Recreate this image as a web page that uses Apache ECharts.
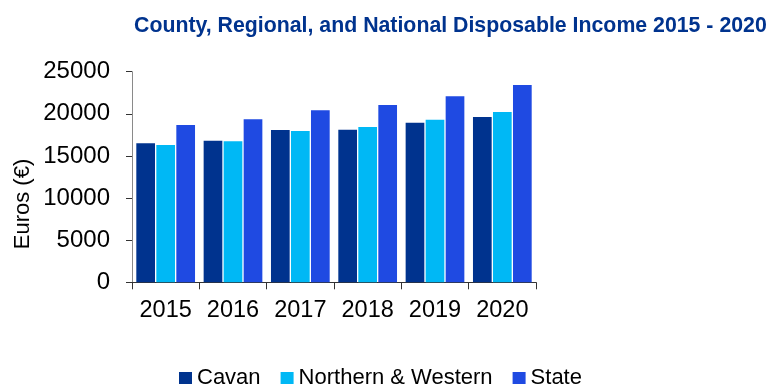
<!DOCTYPE html>
<html>
<head>
<meta charset="utf-8">
<script src="https://cdn.jsdelivr.net/npm/echarts@6/dist/echarts.min.js"></script>
<style>
  html, body { margin: 0; padding: 0; background: #ffffff; }
  #chart { width: 769px; height: 385px; }
</style>
</head>
<body>
<div id="chart"></div>
<script>
// Disposable income per person, euro, by year
const years = ['2015', '2016', '2017', '2018', '2019', '2020'];
const cavan = [16500, 16810, 18080, 18120, 18950, 19620];
const northernWestern = [16300, 16740, 17960, 18440, 19300, 20220];
const state = [18670, 19350, 20420, 21050, 22080, 23420];
const yTicks = [0, 5000, 10000, 15000, 20000, 25000];

const FONT = "'Liberation Sans', Arial, sans-serif";
const colors = { cavan: '#00338E', nw: '#00B8F5', state: '#1F4AE2' };

const chart = echarts.init(document.getElementById('chart'), null, { renderer: 'canvas' });

function barSeries(name, data, color) {
  return {
    name: name,
    type: 'bar',
    data: data,
    itemStyle: { color: color },
    barGap: '7%',
    barCategoryGap: '12.8%'
  };
}

chart.setOption({
  animation: false,
  backgroundColor: '#ffffff',
  title: {
    text: 'County, Regional, and National Disposable Income 2015 - 2020',
    left: 134,
    top: 16,
    padding: 0,
    textStyle: { fontFamily: FONT, fontSize: 21.3, fontWeight: 'bold', color: '#00338E' }
  },
  legend: {
    left: 179,
    top: 367,
    padding: 0,
    itemWidth: 13,
    itemHeight: 12,
    itemGap: 20,
    icon: 'rect',
    textStyle: { fontFamily: FONT, fontSize: 22, color: '#000000' },
    data: ['Cavan', 'Northern & Western', 'State']
  },
  graphic: [{
    type: 'text',
    x: 23,
    y: 204,
    rotation: Math.PI / 2,
    style: {
      text: 'Euros (€)',
      font: '22px ' + FONT,
      fill: '#000000',
      align: 'center',
      verticalAlign: 'middle'
    }
  }],
  grid: { left: 132, right: 233, top: 71.7, bottom: 102.7, containLabel: false },
  xAxis: {
    type: 'category',
    data: years,
    axisLine: { lineStyle: { color: '#333333', width: 1 } },
    axisTick: { show: true, length: 7, alignWithLabel: false, interval: 0, lineStyle: { color: '#333333' } },
    axisLabel: { fontFamily: FONT, fontSize: 23.5, color: '#000000', margin: 16, interval: 0 }
  },
  yAxis: {
    type: 'value',
    min: yTicks[0],
    max: yTicks[yTicks.length - 1],
    interval: yTicks[1] - yTicks[0],
    splitLine: { show: false },
    axisLine: { show: true, lineStyle: { color: '#8a8a8a', width: 1 } },
    axisTick: { show: true, length: 6, lineStyle: { color: '#333333' } },
    axisLabel: {
      fontFamily: FONT, fontSize: 24, color: '#000000', margin: 22,
      formatter: function (v) { return String(v); }
    }
  },
  series: [
    barSeries('Cavan', cavan, colors.cavan),
    barSeries('Northern & Western', northernWestern, colors.nw),
    barSeries('State', state, colors.state)
  ]
});
</script>
</body>
</html>
